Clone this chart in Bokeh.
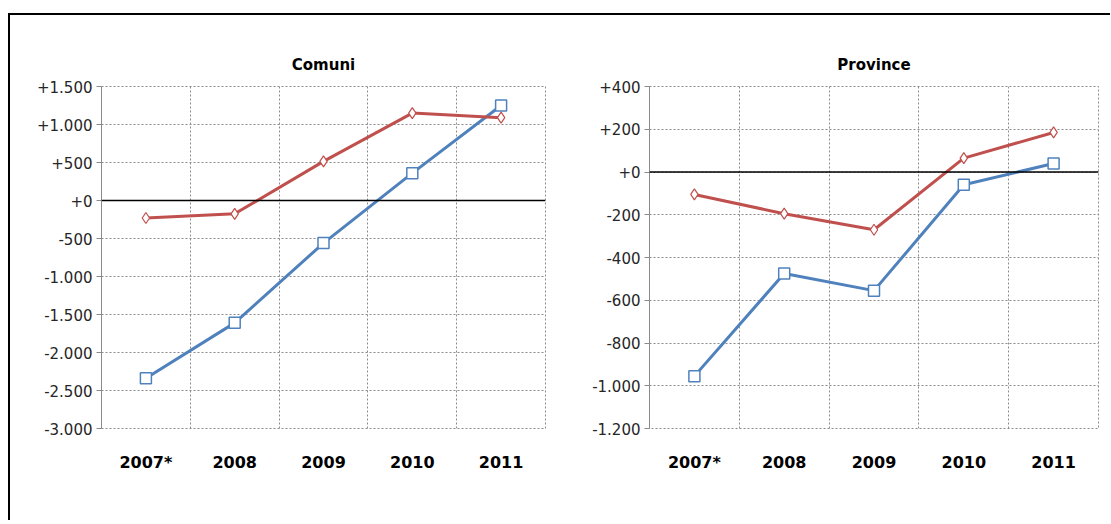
from bokeh.plotting import figure
from bokeh.models import (FactorRange, Range1d, FixedTicker, Span, Legend,
                          LegendItem, Div, Spacer)
from bokeh.layouts import row, column
from bokeh.embed import file_html
from bokeh.resources import INLINE

# ---------------- data ----------------
categories = ["2007*", "2008", "2009", "2010", "2011"]
series_names = ["Obiettivo programmatico (A)", "Saldo finanziario (B)"]

comuni_title = "Comuni"
comuni_A = [-2340, -1610, -560, 360, 1250]
comuni_B = [-230, -175, 515, 1150, 1090]
comuni_ticks = [-3000, -2500, -2000, -1500, -1000, -500, 0, 500, 1000, 1500]
comuni_tick_labels = ["-3.000", "-2.500", "-2.000", "-1.500", "-1.000", "-500",
                      "+0", "+500", "+1.000", "+1.500"]

province_title = "Province"
province_A = [-955, -475, -555, -60, 40]
province_B = [-105, -195, -270, 65, 185]
province_ticks = [-1200, -1000, -800, -600, -400, -200, 0, 200, 400]
province_tick_labels = ["-1.200", "-1.000", "-800", "-600", "-400", "-200",
                        "+0", "+200", "+400"]

# ---------------- style ----------------
FONT = "DejaVu Sans"
BLUE = "#4F81BD"
RED = "#C0504D"
GRID = "#8A8A8A"
FRAME_H = 342
H = 505


def make_chart(title, a_vals, b_vals, ticks, tick_labels, frame_w, mb_left, mb_right):
    p = figure(frame_width=frame_w, frame_height=FRAME_H,
               x_range=FactorRange(*categories),
               y_range=Range1d(ticks[0], ticks[-1]),
               output_backend="svg", toolbar_location=None,
               min_border_left=mb_left, min_border_right=mb_right,
               min_border_top=71, min_border_bottom=H - 71 - FRAME_H,
               title=title)
    p.outline_line_color = GRID
    p.outline_line_dash = "2 2"

    p.title.text_font = FONT
    p.title.text_font_size = "15px"
    p.title.text_font_style = "bold"
    p.title.text_color = "black"
    p.title.align = "center"
    p.title.offset = -32
    p.title.standoff = 25

    p.yaxis.ticker = FixedTicker(ticks=ticks)
    p.yaxis.major_label_overrides = {t: lab for t, lab in zip(ticks, tick_labels)}
    p.yaxis.major_label_text_font = FONT
    p.yaxis.major_label_text_font_size = "15px"
    p.yaxis.major_label_text_color = "#262626"
    p.yaxis.axis_line_color = GRID
    p.yaxis.major_tick_line_color = GRID
    p.yaxis.major_tick_out = 5
    p.yaxis.major_tick_in = 0
    p.yaxis.minor_tick_line_color = None
    p.yaxis.major_label_standoff = 4

    p.xaxis.major_label_text_font = FONT
    p.xaxis.major_label_text_font_size = "16px"
    p.xaxis.major_label_text_font_style = "bold"
    p.xaxis.major_label_text_color = "black"
    p.xaxis.axis_line_color = None
    p.xaxis.major_tick_line_color = None
    p.xaxis.minor_tick_line_color = None
    p.xaxis.major_label_standoff = 18

    p.ygrid.ticker = FixedTicker(ticks=ticks)
    p.ygrid.grid_line_color = GRID
    p.ygrid.grid_line_dash = "2 2"
    p.xgrid.ticker = FixedTicker(ticks=list(range(1, len(categories))))
    p.xgrid.grid_line_color = GRID
    p.xgrid.grid_line_dash = "2 2"

    p.add_layout(Span(location=0, dimension="width", line_color="black",
                      line_width=1.5))

    la = p.line(categories, a_vals, line_color=BLUE, line_width=3)
    sa = p.scatter(categories, a_vals, marker="square", size=11,
                   fill_color="white", line_color=BLUE, line_width=1.5)
    lb = p.line(categories, b_vals, line_color=RED, line_width=3)
    sb = p.scatter(categories, b_vals, marker="diamond", size=11,
                   fill_color="white", line_color=RED, line_width=1.2)

    legend = Legend(items=[LegendItem(label=series_names[0], renderers=[la, sa]),
                           LegendItem(label=series_names[1], renderers=[lb, sb])],
                    orientation="horizontal", location="center",
                    glyph_width=47, glyph_height=18, label_standoff=2,
                    spacing=10, padding=0, margin=0,
                    border_line_color=None, background_fill_alpha=0,
                    label_text_font=FONT, label_text_font_size="14px",
                    label_text_color="#262626")
    p.add_layout(legend, "below")
    return p


p1 = make_chart(comuni_title, comuni_A, comuni_B, comuni_ticks,
                comuni_tick_labels, 444, 91, 10)
p2 = make_chart(province_title, province_A, province_B, province_ticks,
                province_tick_labels, 449, 94, 12)

charts = row(p1, p2, spacing=0)
top_rule = Div(width=1100, height=2, margin=0,
               styles={"background-color": "black"})
left_rule = Div(width=2, height=H + 2, margin=0,
                styles={"background-color": "black"})
inner = column(top_rule, charts, spacing=0)
framed = row(Spacer(width=8, height=H + 2), left_rule, inner, spacing=0)
layout = column(Spacer(width=1110, height=13), framed, spacing=0)

open("out.html", "w").write(file_html(layout, INLINE))
